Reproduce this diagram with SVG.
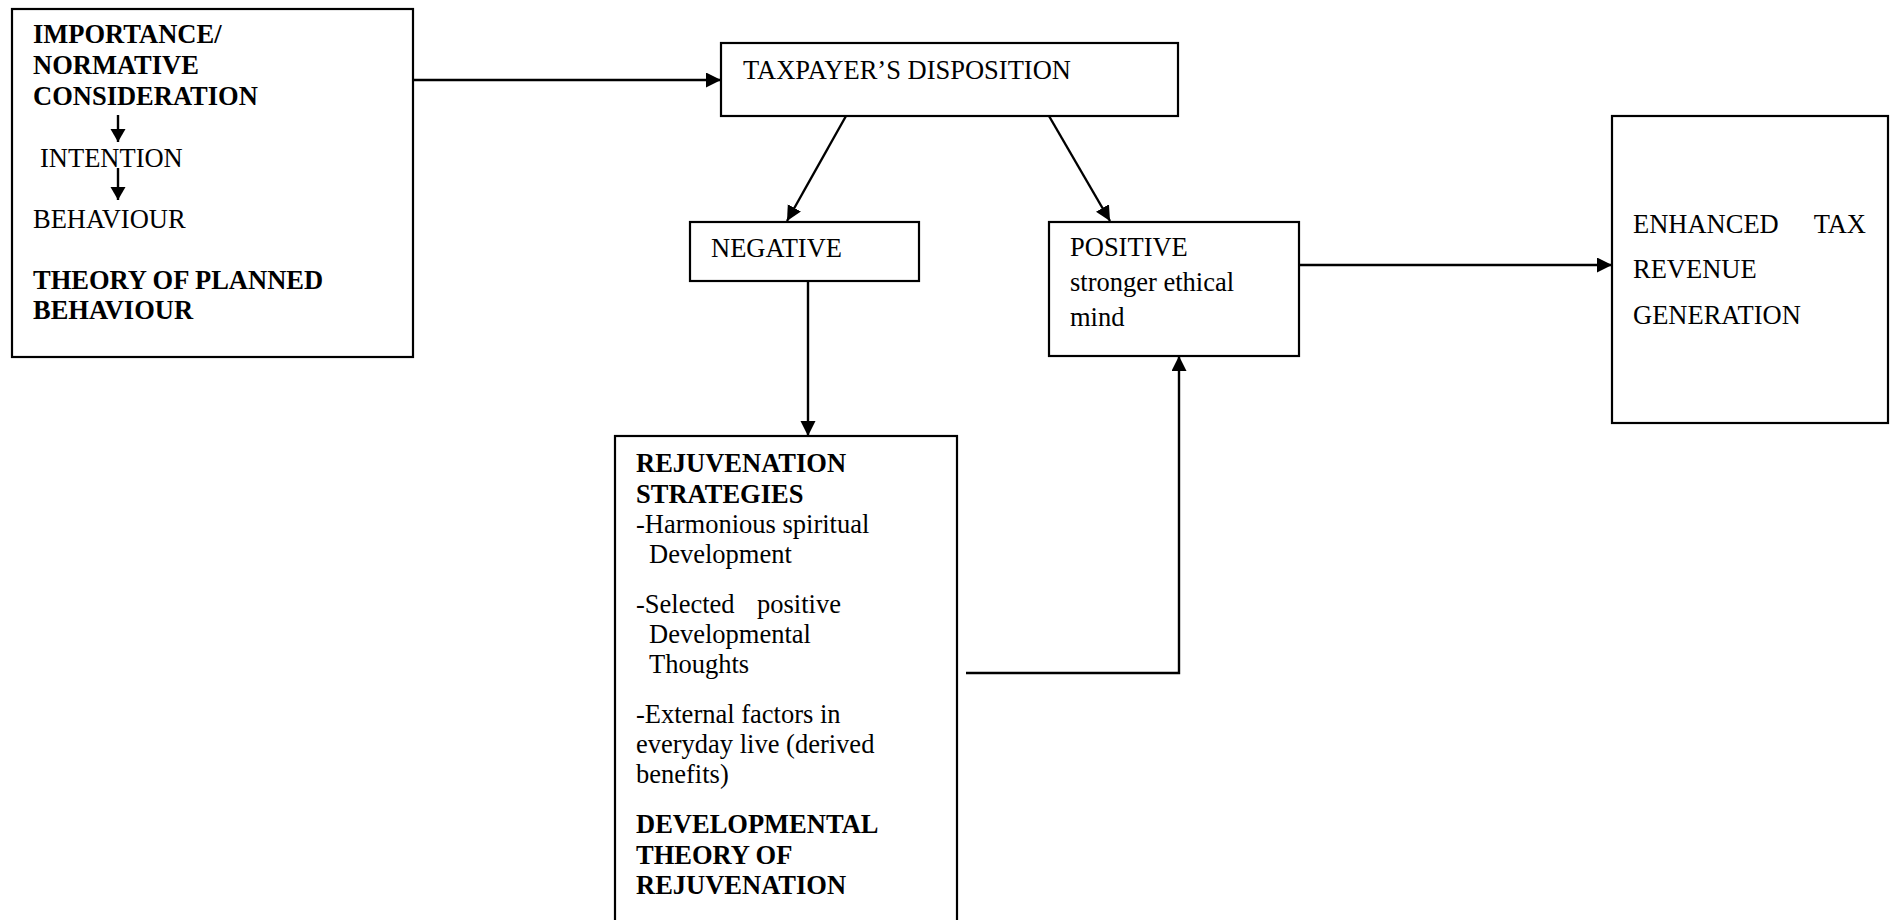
<svg xmlns="http://www.w3.org/2000/svg" width="1894" height="920" viewBox="0 0 1894 920">
<style>
.box{fill:#fff;stroke:#000;stroke-width:2.2}
.t{font-family:"Liberation Serif","Times New Roman",serif;font-size:26.5px;fill:#000}
.b{font-weight:bold}
.c{fill:none;stroke:#000;stroke-width:2.4}
</style>
<defs>
<marker id="ah" markerUnits="userSpaceOnUse" markerWidth="16" markerHeight="16" refX="15" refY="7.5" orient="auto">
<path d="M0,0 L15,7.5 L0,15 z" fill="#000"/>
</marker>
<marker id="ahs" markerUnits="userSpaceOnUse" markerWidth="16" markerHeight="16" refX="13" refY="7.5" orient="auto">
<path d="M0,0 L13,7.5 L0,15 z" fill="#000"/>
</marker>
</defs>
<rect width="1894" height="920" fill="#fff"/>

<g id="theory-planned-behaviour">
<rect class="box" x="12" y="9" width="401" height="348"/>
<text class="t b" x="33" y="43">IMPORTANCE/</text>
<text class="t b" x="33" y="74">NORMATIVE</text>
<text class="t b" x="33" y="105">CONSIDERATION</text>
<text class="t" x="40" y="167">INTENTION</text>
<text class="t" x="33" y="228">BEHAVIOUR</text>
<text class="t b" x="33" y="289">THEORY OF PLANNED</text>
<text class="t b" x="33" y="319">BEHAVIOUR</text>
<line class="c" x1="118" y1="115" x2="118" y2="142" marker-end="url(#ahs)"/>
<line class="c" x1="118" y1="168" x2="118" y2="200" marker-end="url(#ahs)"/>
</g>

<g id="taxpayer-disposition">
<rect class="box" x="721" y="43" width="457" height="73"/>
<text class="t" x="743" y="79">TAXPAYER’S DISPOSITION</text>
</g>

<g id="negative">
<rect class="box" x="690" y="222" width="229" height="59"/>
<text class="t" x="711" y="257">NEGATIVE</text>
</g>

<g id="positive">
<rect class="box" x="1049" y="222" width="250" height="134"/>
<text class="t" x="1070" y="256">POSITIVE</text>
<text class="t" x="1070" y="291">stronger ethical</text>
<text class="t" x="1070" y="326">mind</text>
</g>

<g id="enhanced-tax-revenue">
<rect class="box" x="1612" y="116" width="276" height="307"/>
<text class="t" x="1633" y="233">ENHANCED</text>
<text class="t" x="1866" y="233" text-anchor="end">TAX</text>
<text class="t" x="1633" y="278">REVENUE</text>
<text class="t" x="1633" y="324">GENERATION</text>
</g>

<g id="rejuvenation-strategies">
<rect class="box" x="615" y="436" width="342" height="500"/>
<text class="t b" x="636" y="472">REJUVENATION</text>
<text class="t b" x="636" y="503">STRATEGIES</text>
<text class="t" x="636" y="533">-Harmonious spiritual</text>
<text class="t" x="649" y="563">Development</text>
<text class="t" x="636" y="613">-Selected</text>
<text class="t" x="757" y="613">positive</text>
<text class="t" x="649" y="643">Developmental</text>
<text class="t" x="649" y="673">Thoughts</text>
<text class="t" x="636" y="723">-External factors in</text>
<text class="t" x="636" y="753">everyday live (derived</text>
<text class="t" x="636" y="783">benefits)</text>
<text class="t b" x="636" y="833">DEVELOPMENTAL</text>
<text class="t b" x="636" y="864">THEORY OF</text>
<text class="t b" x="636" y="894">REJUVENATION</text>
</g>

<g id="connectors">
<line class="c" x1="413" y1="80" x2="721" y2="80" marker-end="url(#ah)"/>
<line class="c" x1="846" y1="116" x2="787" y2="221" marker-end="url(#ah)"/>
<line class="c" x1="1049" y1="116" x2="1110" y2="221" marker-end="url(#ah)"/>
<line class="c" x1="808" y1="281" x2="808" y2="436" marker-end="url(#ah)"/>
<line class="c" x1="1299" y1="265" x2="1612" y2="265" marker-end="url(#ah)"/>
<polyline class="c" points="966,673 1179,673 1179,356" marker-end="url(#ah)"/>
</g>
</svg>
